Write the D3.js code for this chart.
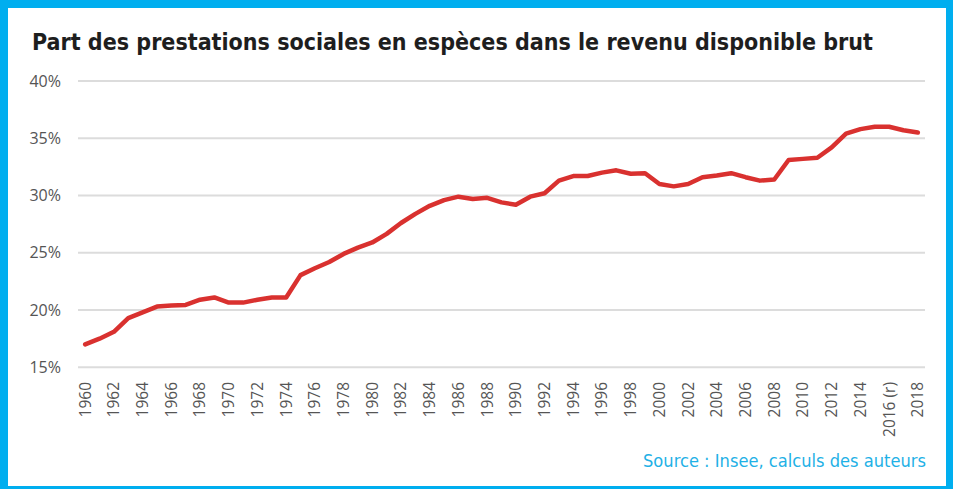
<!DOCTYPE html>
<html>
<head>
<meta charset="utf-8">
<script src="https://cdn.jsdelivr.net/npm/d3@7"></script>
<style>
  html, body { margin: 0; padding: 0; background: #fff; }
  svg { display: block; }
</style>
</head>
<body>
<div id="chart"></div>
<script>
// ── Part des prestations sociales en espèces dans le RDB ──

const years = d3.range(1960, 2019);
const shares = [
  17.0, 17.5, 18.1, 19.3, 19.8, 20.3, 20.4, 20.45, 20.9, 21.1,
  20.65, 20.65, 20.9, 21.1, 21.1, 23.05, 23.65, 24.2, 24.9, 25.45,
  25.9, 26.65, 27.6, 28.4, 29.1, 29.6, 29.9, 29.7, 29.8, 29.4,
  29.2, 29.9, 30.2, 31.3, 31.7, 31.7, 32.0, 32.2, 31.9, 31.95,
  31.0, 30.8, 31.0, 31.6, 31.75, 31.95, 31.6, 31.3, 31.4, 33.1,
  33.2, 33.3, 34.2, 35.4, 35.8, 36.0, 36.0, 35.7, 35.5
];
const yTicks = [15, 20, 25, 30, 35, 40];
const yearLabels = years.map(y => y % 2 ? '' : (y === 2016 ? '2016 (r)' : String(y)));

const title = 'Part des prestations sociales en espèces dans le revenu disponible brut';
const source = 'Source : Insee, calculs des auteurs';

const width = 953, height = 489;
const plot = { left: 78, right: 925, top: 81, bottom: 367.3 };

const svg = d3.select('#chart')
  .append('svg')
  .attr('width', width)
  .attr('height', height);

// Frame
svg.append('rect')
  .attr('width', width).attr('height', height)
  .attr('fill', '#00aeef');
svg.append('rect')
  .attr('x', 8).attr('y', 8)
  .attr('width', width - 8 - 7).attr('height', height - 8 - 3)
  .attr('fill', '#fff');

// Title
svg.append('text')
  .attr('x', 32).attr('y', 50)
  .attr('font-family', "'DejaVu Sans Condensed', 'DejaVu Sans', sans-serif")
  .attr('font-stretch', 'condensed')
  .attr('font-weight', 'bold')
  .attr('font-size', 23)
  .attr('fill', '#1e1e1e')
  .attr('textLength', 841)
  .attr('lengthAdjust', 'spacingAndGlyphs')
  .text(title);

const x = d3.scaleBand()
  .domain(years)
  .range([plot.left, plot.right]);

const y = d3.scaleLinear()
  .domain([15, 40])
  .range([plot.bottom, plot.top]);

// Gridlines
svg.append('g')
  .selectAll('line')
  .data(yTicks)
  .join('line')
  .attr('x1', plot.left).attr('x2', plot.right)
  .attr('y1', d => y(d)).attr('y2', d => y(d))
  .attr('stroke', '#dcdcdc')
  .attr('stroke-width', 2);

// Y axis labels
svg.append('g')
  .selectAll('text')
  .data(yTicks)
  .join('text')
  .attr('x', 61)
  .attr('y', d => y(d))
  .attr('dy', '0.35em')
  .attr('text-anchor', 'end')
  .attr('font-family', "'Open Sans', sans-serif")
  .attr('font-size', 16)
  .attr('fill', '#555')
  .text(d => d + '%');

// X axis labels (rotated)
svg.append('g')
  .selectAll('text')
  .data(years.filter((d, i) => yearLabels[i]))
  .join('text')
  .attr('transform', d => `translate(${x(d) + x.bandwidth() / 2},382) rotate(-90)`)
  .attr('dy', '0.35em')
  .attr('text-anchor', 'end')
  .attr('font-family', "'Open Sans', sans-serif")
  .attr('font-size', 15.5)
  .attr('fill', '#555')
  .text(d => yearLabels[years.indexOf(d)]);

// Line
const line = d3.line()
  .x((d, i) => x(years[i]) + x.bandwidth() / 2)
  .y(d => y(d));

svg.append('path')
  .datum(shares)
  .attr('d', line)
  .attr('fill', 'none')
  .attr('stroke', '#d9312f')
  .attr('stroke-width', 4.5)
  .attr('stroke-linejoin', 'round')
  .attr('stroke-linecap', 'round');

// Source
svg.append('text')
  .attr('x', 926).attr('y', 467)
  .attr('text-anchor', 'end')
  .attr('font-family', "'DejaVu Sans Condensed', 'DejaVu Sans', sans-serif")
  .attr('font-stretch', 'condensed')
  .attr('font-size', 17)
  .attr('fill', '#1fb1e6')
  .attr('textLength', 283)
  .attr('lengthAdjust', 'spacingAndGlyphs')
  .text(source);
</script>
</body>
</html>
